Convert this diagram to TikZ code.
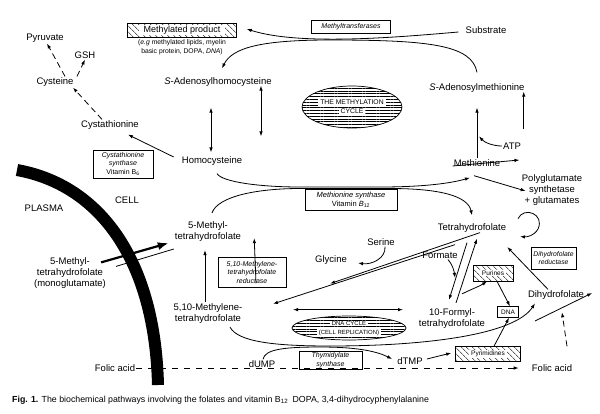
\documentclass[tikz,border=0pt]{standalone}
\usepackage{fontspec}
\setmainfont{Liberation Sans}
\usetikzlibrary{arrows.meta, positioning, patterns.meta, shapes.geometric}

\begin{document}
\begin{tikzpicture}[x=1pt, y=-1pt,
    lbl/.style={inner sep=1pt, align=center, font=\fontsize{9.5}{11}\selectfont},
    enz/.style={draw, line width=0.5pt, inner sep=0pt, align=center, font=\fontsize{7}{8.5}\selectfont\itshape},
    hatch/.style={draw, line width=0.6pt, inner sep=0pt, pattern={Lines[angle=-45, distance=4pt, line width=0.5pt]}},
    cyc/.style={ellipse, draw, line width=0.7pt, inner sep=0pt, pattern={Lines[angle=0, distance=2.8pt, line width=0.7pt]}},
    tag/.style={fill=white, inner xsep=2pt, inner ysep=0.6pt, align=center},
    arr/.style={line width=0.8pt, -{Latex[length=5pt, width=3.5pt]}},
    dblarr/.style={line width=0.8pt, {Latex[length=5pt, width=3.5pt]}-{Latex[length=5pt, width=3.5pt]}},
    dasharr/.style={arr, dash pattern=on 6pt off 4pt},
    bigarr/.style={line width=2.2pt, -{Latex[length=11pt, width=8pt]}}]
    \useasboundingbox (0,0) rectangle (600,413);

    % Membrane
    \draw[line width=12pt] (17,170) .. controls (100,185) and (155,260) .. (158,385);

    % Methylation cycle
    \node[lbl] (pyr) at (45,38) {Pyruvate};
    \node[lbl] (gsh) at (85,55) {GSH};
    \node[lbl] (cys) at (55,82) {Cysteine};
    \node[lbl] (cysta) at (110,125) {Cystathionine};
    \node[lbl] (hcy) at (212,161) {Homocysteine};
    \node[lbl] (sah) at (218,82) {\textit{S}-Adenosylhomocysteine};
    \node[lbl] (sam) at (477,88) {\textit{S}-Adenosylmethionine};
    \node[lbl] (met) at (477,163) {Methionine};
    \node[lbl] (atp) at (512,146) {ATP};
    \node[lbl] (substrate) at (486,30) {Substrate};
    \node[hatch, minimum width=109pt, minimum height=14pt] (methprod) at (182,30) {};
    \node[tag, inner xsep=5pt, font=\fontsize{9}{10}\selectfont] (methprodtxt) at (methprod) {Methylated product};
    \node[lbl, font=\fontsize{6.8}{9}\selectfont] (methnote) at (182,47.5) {(\textit{e.g} methylated lipids, myelin\\basic protein, DOPA, \textit{DNA})};
    \node[enz, minimum width=79pt, minimum height=13pt] (mtrans) at (351,26.5) {Methyltransferases};
    \node[cyc, minimum width=100pt, minimum height=42pt] (methcyc) at (352,107) {};
    \node[tag, font=\fontsize{6.8}{7.5}\selectfont] (methcyctop) at (352,102.5) {THE METHYLATION};
    \node[tag, font=\fontsize{6.8}{7.5}\selectfont] (methcycbot) at (352,111.5) {CYCLE};
    \node[enz, minimum width=60pt, minimum height=28pt] (cbs) at (123,164) {Cystathionine\\synthase\\\textup{Vitamin B\textsubscript{6}}};

    \draw[dasharr] ([xshift=10pt]cys.north) -- ([xshift=2pt]pyr.south);
    \draw[dasharr] ([xshift=22pt]cys.north) -- (gsh.south);
    \draw[dasharr] ([xshift=-8pt]cysta.north) -- ([xshift=18pt]cys.south);
    \draw[arr] ([xshift=-7pt,yshift=4pt]hcy.west) -- ([xshift=-12pt,yshift=-4pt]cysta.south east);
    \draw[dblarr] ([xshift=-7pt,yshift=-20pt]sah.south) -- ([xshift=-1pt,yshift=3pt]hcy.north);
    \draw[dblarr] ([xshift=43pt,yshift=2pt]sah.south) -- ([xshift=49pt,yshift=19pt]hcy.north);
    \draw[arr] ([xshift=-6pt,yshift=-2pt]substrate.west) .. controls (400,37) and (300,46) .. ([xshift=10pt,yshift=1pt]methprod.east);
    \draw[arr] ([yshift=10pt]sam.north) .. controls (472,45) and (430,40) .. (330,40) .. controls (260,40) and (232,48) .. ([xshift=4pt,yshift=8pt]sah.north);
    \draw[arr] (met.north) -- ([yshift=-14pt]sam.south);
    \draw[arr] ([xshift=-2pt,yshift=-35pt]sam.south east) -- ([xshift=-2pt,yshift=2pt]sam.south east);
    \draw[arr] (atp.west) .. controls (494,146) and (485,143) .. ([xshift=2pt,yshift=22pt]met.north);
    \draw[arr] ([yshift=-3pt]met.west) -- ([xshift=18pt,yshift=3pt]met.east);

    % Cell side
    \node[lbl] (cell) at (127,200) {CELL};
    \node[lbl] (plasma) at (44,208) {PLASMA};
    \node[lbl] (mthf) at (208,232) {5-Methyl-\\tetrahydrofolate};
    \node[lbl] (mthfmono) at (70,273) {5-Methyl-\\tetrahydrofolate\\(monoglutamate)};
    \node[enz, minimum width=92pt, minimum height=21pt, font=\fontsize{7.5}{9}\selectfont\itshape] (msyn) at (351,199.5) {Methionine synthase\\\textup{Vitamin \textit{B}\textsubscript{12}}};
    \node[lbl] (polyg) at (552,190) {Polyglutamate\\synthetase\\+ glutamates};
    \node[lbl] (thf) at (472,228) {Tetrahydrofolate};
    \node[enz, minimum width=45pt, minimum height=22pt, font=\fontsize{6.8}{8.5}\selectfont\itshape] (dhfr) at (553.5,258) {Dihydrofolate\\reductase};
    \node[lbl] (serine) at (381,242) {Serine};
    \node[lbl] (glycine) at (331,260) {Glycine};
    \node[lbl] (formate) at (440,255) {Formate};
    \node[hatch, minimum width=40pt, minimum height=16pt] (purines) at (493,273) {};
    \node[tag, font=\fontsize{6.5}{8}\selectfont] (purinestxt) at (purines) {Purines};
    \node[lbl] (formylthf) at (452,319) {10-Formyl-\\tetrahydrofolate};
    \node[draw, line width=0.6pt, minimum width=21pt, minimum height=11pt, inner sep=0pt, font=\fontsize{6.5}{8}\selectfont] (dna) at (508,312) {DNA};
    \node[lbl] (dhf) at (556,295) {Dihydrofolate};
    \node[lbl] (folicr) at (552,368) {Folic acid};
    \node[lbl] (folicl) at (115,368) {Folic acid};
    \node[hatch, minimum width=65pt, minimum height=15pt] (pyrim) at (488,354) {};
    \node[tag, font=\fontsize{6.5}{8}\selectfont] (pyrimtxt) at (pyrim) {Pyrimidines};
    \node[lbl] (dtmp) at (410,361) {dTMP};
    \node[lbl] (dump) at (262,364) {dUMP};
    \node[enz, minimum width=63pt, minimum height=18pt] (tsyn) at (330.5,360) {Thymidylate\\synthase};
    \node[cyc, minimum width=114pt, minimum height=24pt] (dnacyc) at (349,328) {};
    \node[tag, font=\fontsize{6}{7}\selectfont] (dnacyctop) at (349,323.5) {DNA CYCLE};
    \node[tag, font=\fontsize{6}{7}\selectfont] (dnacycbot) at (349,332.5) {(CELL REPLICATION)};
    \node[enz, minimum width=68pt, minimum height=30pt] (mthfr) at (252,272) {5,10-Methylene-\\tetrahydrofolate\\reductase};
    \node[lbl] (mlthf) at (208,314) {5,10-Methylene-\\tetrahydrofolate};
    \coordinate (folin) at (535,321);

    % Transport into the cell
    \draw[bigarr] ([xshift=-6pt,yshift=-6pt]mthfmono.north east) -- ([xshift=-5pt,yshift=-11pt]mthf.west);
    \draw[line width=0.8pt] ([xshift=9pt,yshift=-10pt]mthfmono.north east) -- ([yshift=-17pt]mthf.west);

    % Methionine synthase
    \draw[arr] ([xshift=5pt,yshift=-7pt]hcy.south) .. controls (222,182) and (260,187) .. (300,187) -- (380,187) .. controls (425,187) and (452,183) .. ([xshift=-7pt,yshift=-10pt]met.south);
    \draw[arr] ([xshift=4pt,yshift=8pt]mthf.north) .. controls (218,196) and (258,188.5) .. (300,188.5) -- (390,188.5) .. controls (440,188.5) and (468,196) .. ([yshift=7pt]thf.north);
    \draw[arr] ([xshift=-3pt,yshift=-8pt]met.south) -- ([xshift=5pt,yshift=-1pt]polyg.west);
    \draw[arr] ([xshift=-34pt,yshift=-12pt]polyg.south) .. controls (524,206) and (545,214) .. (538,229) .. controls (534,236) and (527,237) .. ([xshift=-32pt,yshift=-30pt]polyg.south);

    % Folate interconversions
    \draw[arr] ([xshift=-3pt,yshift=1pt]mlthf.north) -- ([xshift=-3pt,yshift=-7pt]mthf.south);
    \draw[arr] ([xshift=4pt,yshift=4pt]mthfr.south) -- ([xshift=12pt,yshift=5pt]mthf.south east);
    \draw[arr] ([xshift=8pt,yshift=1pt]thf.south) -- ([xshift=-1pt,yshift=-18pt]glycine.south);
    \draw[arr] ([xshift=-17pt,yshift=-11pt]thf.south) -- ([xshift=65pt,yshift=-1pt]mlthf.north);
    \draw[arr] ([xshift=4pt]serine.south) .. controls (386,258) and (372,265) .. ([xshift=10pt,yshift=-3pt]glycine.east);
    \draw[arr] ([xshift=8pt]formate.south) .. controls (452,264) and (454,270) .. ([xshift=3pt,yshift=30pt]formylthf.north);
    \draw[arr] ([xshift=-5pt,yshift=-9pt]thf.south) -- ([xshift=-3pt,yshift=8pt]formylthf.north);
    \draw[arr] ([xshift=4pt,yshift=5pt]formylthf.north) -- ([xshift=5pt,yshift=-5pt]thf.south);
    \draw[arr] ([xshift=10pt,yshift=14pt]formylthf.north) .. controls (472,289) and (480,286) .. ([xshift=-6pt]purines.south);
    \draw[arr] ([xshift=4pt]purines.south) -- ([xshift=2pt]dna.north);
    \draw[arr] ([xshift=6pt]pyrim.north) -- ([xshift=1pt]dna.south);
    \draw[arr] ([xshift=3pt,yshift=2pt]dtmp.east) -- ([xshift=-4pt,yshift=1pt]pyrim.west);
    \draw[arr] ([xshift=-8pt]dhf.north) -- ([yshift=-19pt]thf.east);
    \draw[arr] (folin) -- ([xshift=7pt,yshift=2pt]dhf.east);
    \draw[dasharr] ([xshift=15pt,yshift=17pt]folicr.north) -- ([xshift=10pt,yshift=51pt]folicr.north);
    \draw[dasharr, dash pattern=on 6pt off 6pt] (folicl.east) -- ([xshift=-12pt]folicr.west);

    % DNA cycle
    \draw[dblarr] ([xshift=-56pt,yshift=6pt]dnacyc.north) -- ([xshift=54pt,yshift=6pt]dnacyc.north);
    \draw[arr] ([xshift=22pt,yshift=-2pt]mlthf.south) .. controls (238,342) and (275,346) .. (330,346) .. controls (430,346) and (515,334) .. ([xshift=-21pt,yshift=-14pt]dhf.north);
    \draw[arr] ([xshift=1pt]dump.north) .. controls (265,350) and (280,347) .. (320,347) .. controls (360,347) and (378,352) .. ([xshift=-4pt,yshift=2pt]dtmp.west);

    % Caption
    \node[anchor=west, inner sep=0pt, font=\fontsize{8.8}{10}\selectfont] (caption) at (12,400) {\textbf{Fig. 1.} The biochemical pathways involving the folates and vitamin B\textsubscript{12}\enspace DOPA, 3,4-dihydrocyphenylalanine};
\end{tikzpicture}
\end{document}
